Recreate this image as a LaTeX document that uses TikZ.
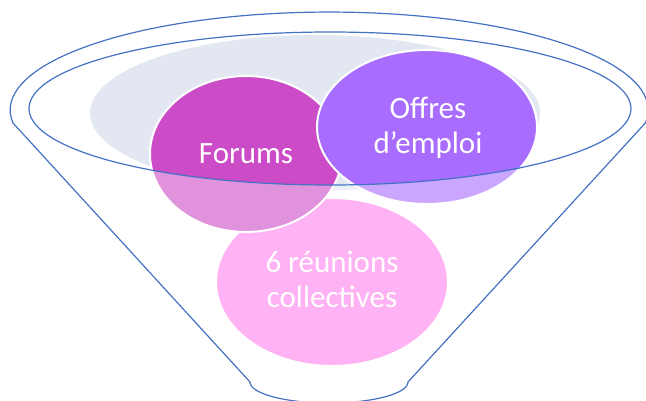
\documentclass[tikz,border=0pt]{standalone}
\usepackage{fontspec}
\setmainfont{Carlito}
\definecolor{funnelblue}{HTML}{4472C4}
\definecolor{haze}{HTML}{E3E7F2}
\definecolor{forumc}{HTML}{CC4BC6}
\definecolor{offrec}{HTML}{A86CFF}
\definecolor{reunc}{HTML}{FF80EE}
\tikzset{
  bubble/.style={ellipse, draw=white, line width=2pt, inner sep=0pt},
  bubbletext/.style={text=white, font=\fontsize{31}{35}\selectfont, align=center, inner sep=0pt},
  funnelline/.style={draw=funnelblue, line width=1.2pt},
}
\usetikzlibrary{shapes.geometric}
\begin{document}
\begin{tikzpicture}[x=1pt,y=-1pt]
\useasboundingbox (0,0) rectangle (646,400);
% haze behind
\fill[haze] (315,113) ellipse [x radius=225, y radius=78];
% bubbles
\node[bubble, fill=reunc, minimum width=232pt, minimum height=168pt] (reun) at (332,282) {};
\node[bubble, fill=forumc, minimum width=192pt, minimum height=156pt] (forum) at (246,154) {};
\node[bubble, fill=offrec, minimum width=220pt, minimum height=154pt] (offre) at (427,127) {};
% wash-out outside the funnel opening
\fill[white, opacity=0.4, even odd rule] (0,0) rectangle (646,400) (330,108.5) ellipse [x radius=301, y radius=76.5];
% texts
\node[bubbletext] (forumt) at (246,154) {Forums};
\node[bubbletext] (offret) at (428,128) {Offres\\d’emploi};
\node[bubbletext] (reunt) at (332,279) {6 réunions\\collectives};
% funnel outline
\coordinate (tl) at (13,123);
\coordinate (br) at (408,382);
\draw[funnelline] (tl) arc[start angle=172.4, end angle=367.6, x radius=319, y radius=98] -- (br)
  arc[start angle=0, end angle=180, x radius=79, y radius=21] -- cycle;
\draw[funnelline] (330,108.5) ellipse [x radius=301, y radius=76.5];
\end{tikzpicture}
\end{document}
